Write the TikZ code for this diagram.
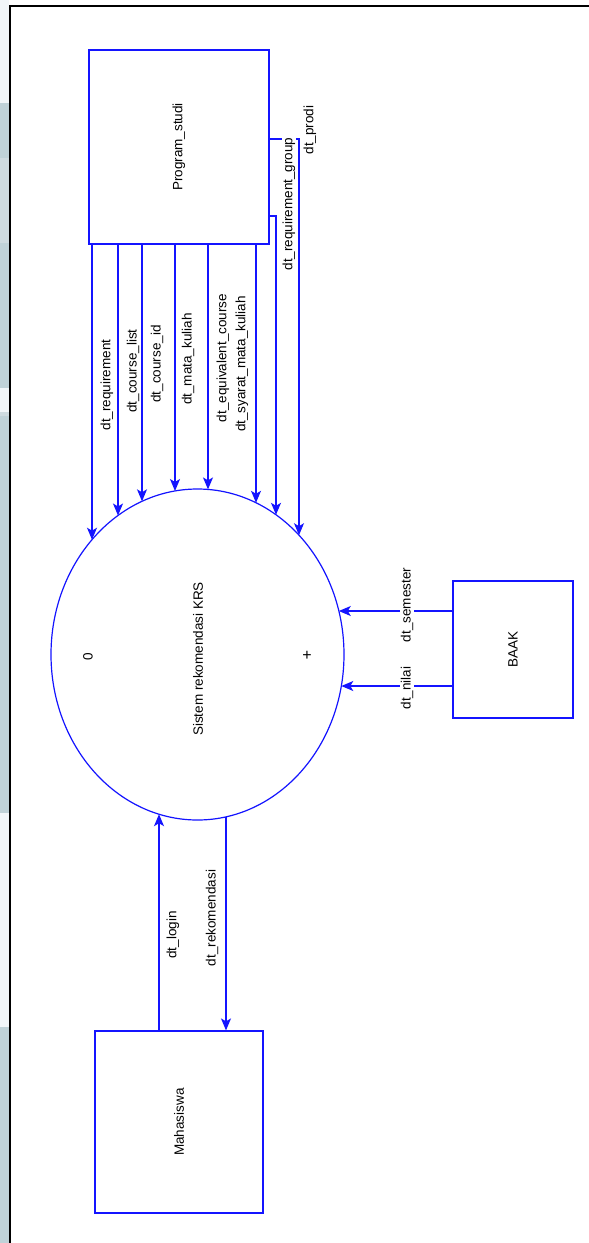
\documentclass[tikz,border=0pt]{standalone}
\usepackage{fontspec}
\setmainfont{Liberation Sans}
\usetikzlibrary{shapes.geometric,arrows.meta}
\definecolor{dfdblue}{RGB}{20,20,255}
\definecolor{stripgray}{RGB}{191,210,216}
\definecolor{striplight}{RGB}{206,219,224}
\definecolor{stripwhite}{RGB}{241,246,249}
\begin{document}
\begin{tikzpicture}[x=1pt,y=-1pt,
  ent/.style={draw=dfdblue,line width=1.2pt,inner sep=0pt,font=\fontsize{13.5}{14}\selectfont},
  flow/.style={draw=dfdblue,line width=1.2pt,-{Stealth[length=12pt,width=10pt,inset=3pt]}},
  lbl/.style={font=\fontsize{13.5}{14}\selectfont,inner sep=1pt,rotate=90},
  wlbl/.style={lbl,fill=white}]
\useasboundingbox (0,0) rectangle (589,1243);
\fill[white] (0,0) rectangle (589,1243);
% left strip of screenshot background
\fill[stripwhite] (0,0) rectangle (9,103);
\fill[stripgray] (0,103) rectangle (9,158);
\fill[striplight] (0,158) rectangle (9,243);
\fill[stripgray] (0,243) rectangle (9,388);
\fill[stripwhite] (0,388) rectangle (9,412);
\fill[striplight] (0,412) rectangle (9,416);
\fill[stripgray] (0,416) rectangle (9,813);
\fill[stripwhite] (0,813) rectangle (9,1027);
\fill[stripgray] (0,1027) rectangle (9,1243);
\draw[line width=2pt] (10,1243) -- (10,6) -- (589,6);

% entities and process
\node[ent,minimum width=180pt,minimum height=194pt] (ps) at (179,147) {\rotatebox{90}{Program\_studi}};
\node[ent,minimum width=120pt,minimum height=137pt] (baak) at (513,649.5) {\rotatebox{90}{BAAK}};
\node[ent,minimum width=168pt,minimum height=182pt] (mhs) at (179,1122) {\rotatebox{90}{Mahasiswa}};
\node[ent,ellipse,minimum width=293pt,minimum height=331pt] (proc) at (197.5,654.5) {};
\node[lbl] (ptext) at (198,659) {Sistem rekomendasi KRS};
\node[lbl] (pnum) at (88,657) {0};
\node[font=\fontsize{16}{16}\selectfont,inner sep=0pt] (pplus) at (307,656) {+};

% points on the process border
\coordinate (e1) at (92,539.7);
\coordinate (e2) at (118,515.5);
\coordinate (e3) at (142,501.3);
\coordinate (e4) at (175,491.0);
\coordinate (e5) at (208,489.4);
\coordinate (e6) at (256,502.8);
\coordinate (e7) at (276,514.8);
\coordinate (e8) at (299,535.2);
\coordinate (es) at (338.8,611);
\coordinate (en) at (341.3,686);
\coordinate (el) at (159,814.2);
\coordinate (er) at (226,816.8);

% flows from Program_studi
\draw[flow] (ps.south -| e1) -- (e1);
\draw[flow] (ps.south -| e2) -- (e2);
\draw[flow] (ps.south -| e3) -- (e3);
\draw[flow] (ps.south -| e4) -- (e4);
\draw[flow] (ps.south -| e5) -- (e5);
\draw[flow] (ps.south -| e6) -- (e6);
\draw[flow] (ps.east |- 0,216) -| (e7);
\draw[flow] (ps.east |- 0,139) -| (e8);

% flows from BAAK
\draw[flow] (baak.west |- es) -- (es);
\draw[flow] (baak.west |- en) -- (en);

% flows with Mahasiswa
\draw[flow] (mhs.north -| el) -- (el);
\draw[flow] (er) -- (mhs.north -| er);

% labels
\node[lbl] (l1) at (107,385) {dt\_requirement};
\node[lbl] (l2) at (133,371) {dt\_course\_list};
\node[lbl] (l3) at (157,364) {dt\_course\_id};
\node[lbl] (l4) at (188,359) {dt\_mata\_kuliah};
\node[lbl] (l5) at (223,358) {dt\_equivalent\_course};
\node[lbl] (l6) at (242,364) {dt\_syarat\_mata\_kuliah};
\node[wlbl] (l7) at (289,204) {dt\_requirement\_group};
\node[lbl] (l8) at (310,130) {dt\_prodi};
\node[wlbl] (l9) at (407,605) {dt\_semester};
\node[wlbl] (l10) at (407,688) {dt\_nilai};
\node[lbl] (l11) at (173,935) {dt\_login};
\node[lbl] (l12) at (212,918) {dt\_rekomendasi};
\end{tikzpicture}
\end{document}
